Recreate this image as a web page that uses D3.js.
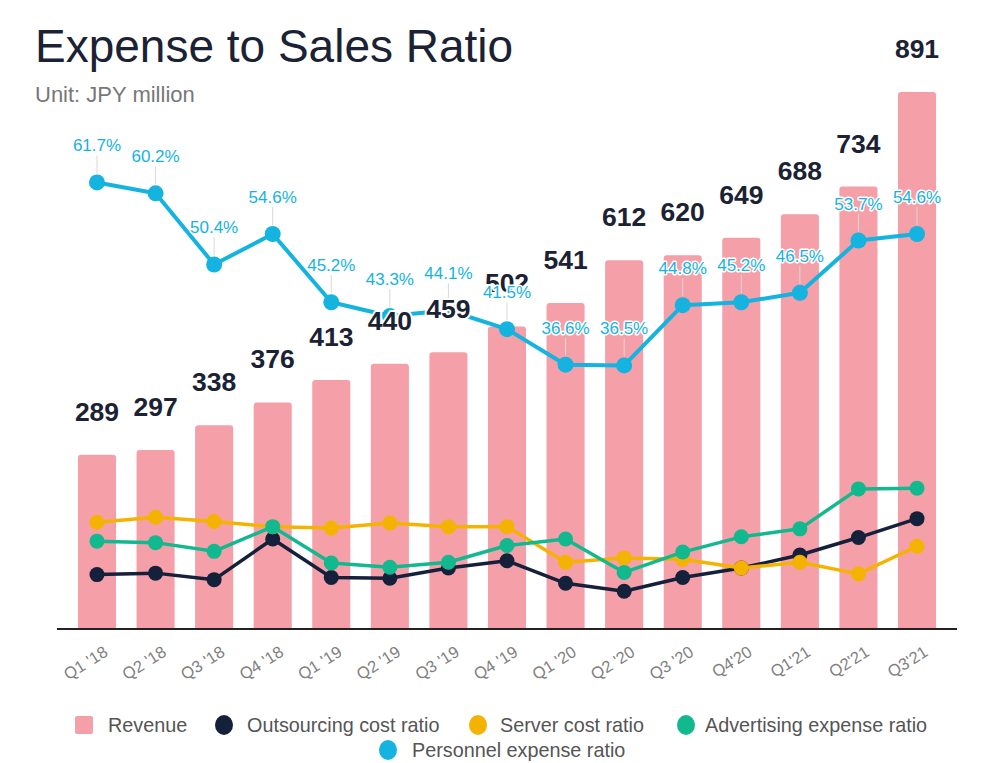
<!DOCTYPE html>
<html>
<head>
<meta charset="utf-8">
<script src="https://cdn.jsdelivr.net/npm/d3@7"></script>
<style>
  html, body { margin: 0; padding: 0; background: #fff; }
  svg { display: block; font-family: "Liberation Sans", Arial, Helvetica, sans-serif; }
</style>
</head>
<body>
<svg id="chart" width="983" height="763"></svg>
<script>
const quarters = ["Q1 '18","Q2 '18","Q3 '18","Q4 '18","Q1 '19","Q2 '19","Q3 '19","Q4 '19","Q1 '20","Q2 '20","Q3 '20","Q4'20","Q1'21","Q2'21","Q3'21"];
const revenue = [289, 297, 338, 376, 413, 440, 459, 502, 541, 612, 620, 649, 688, 734, 891];
const outsourcingRatio = [7.7, 7.9, 7.0, 12.6, 7.3, 7.2, 8.6, 9.6, 6.5, 5.4, 7.3, 8.6, 10.4, 12.8, 15.4];
const serverRatio = [14.9, 15.6, 15.0, 14.3, 14.1, 14.8, 14.3, 14.3, 9.4, 10.0, 9.8, 8.6, 9.4, 7.8, 11.6];
const advertisingRatio = [12.3, 12.1, 10.9, 14.3, 9.3, 8.7, 9.4, 11.7, 12.6, 8.0, 10.8, 12.9, 14.0, 19.5, 19.6];
const personnelRatio = [61.7, 60.2, 50.4, 54.6, 45.2, 43.3, 44.1, 41.5, 36.6, 36.5, 44.8, 45.2, 46.5, 53.7, 54.6];

const colors = {
  revenue: "#f59fa8",
  outsourcing: "#15203a",
  server: "#f5b301",
  advertising: "#12b98f",
  personnel: "#14b3e0",
  dark: "#1a2233"
};

const svg = d3.select("#chart");
const baseY = 629;

const x = d3.scaleBand().domain(quarters).range([67.7, 946.3]).paddingInner(0.35).paddingOuter(0.175);
const yRev = d3.scaleLinear().domain([0, 1000]).range([baseY, baseY - 602.7]);
const yPct = d3.scaleLinear().domain([0, 80]).range([630.5, 630.5 - 80 * 7.262]);

// Title
svg.append("text").attr("x", 35).attr("y", 62)
  .attr("font-size", 46).attr("fill", colors.dark).text("Expense to Sales Ratio");
svg.append("text").attr("x", 35).attr("y", 102)
  .attr("font-size", 22).attr("fill", "#777").text("Unit: JPY million");

// Bars
const barG = svg.append("g");
barG.selectAll("path").data(revenue).enter().append("path")
  .attr("fill", colors.revenue)
  .attr("d", (d, i) => {
    const x0 = x(quarters[i]), w = x.bandwidth(), y0 = yRev(d), r = 3;
    return `M${x0},${baseY} L${x0},${y0 + r} Q${x0},${y0} ${x0 + r},${y0} L${x0 + w - r},${y0} Q${x0 + w},${y0} ${x0 + w},${y0 + r} L${x0 + w},${baseY} Z`;
  });

// Axis
const axisG = svg.append("g").attr("transform", `translate(0,${baseY})`);
axisG.append("line").attr("x1", 57).attr("x2", 957).attr("y1", 0).attr("y2", 0)
  .attr("stroke", "#222").attr("stroke-width", 2);
axisG.selectAll("text.tick").data(quarters).enter().append("text")
  .attr("class", "tick")
  .attr("transform", d => `translate(${x(d) + x.bandwidth() / 2 + 12},${26}) rotate(-32)`)
  .attr("text-anchor", "end")
  .attr("font-size", 16.5).attr("fill", "#7f7f7f")
  .text(d => d);

// Lines
const series = [
  { key: "outsourcing", values: outsourcingRatio, width: 3.5, r: 7.5 },
  { key: "server", values: serverRatio, width: 3.5, r: 7.5 },
  { key: "advertising", values: advertisingRatio, width: 3.5, r: 7.5 },
  { key: "personnel", values: personnelRatio, width: 4, r: 8 }
];
const cx = i => x(quarters[i]) + x.bandwidth() / 2;
const line = d3.line().x((d, i) => cx(i)).y(d => yPct(d));

series.forEach(s => {
  const g = svg.append("g");
  g.append("path").datum(s.values).attr("d", line)
    .attr("fill", "none").attr("stroke", colors[s.key]).attr("stroke-width", s.width)
    .attr("stroke-linejoin", "round");
  g.selectAll("circle").data(s.values).enter().append("circle")
    .attr("cx", (d, i) => cx(i)).attr("cy", d => yPct(d)).attr("r", s.r)
    .attr("fill", colors[s.key]);
});

// Leader lines for personnel labels
svg.append("g").selectAll("line").data(personnelRatio).enter().append("line")
  .attr("x1", (d, i) => cx(i)).attr("x2", (d, i) => cx(i))
  .attr("y1", d => yPct(d) - 9).attr("y2", d => yPct(d) - 27)
  .attr("stroke", "#d8d8d8").attr("stroke-width", 1);

// Revenue labels
svg.append("g").selectAll("text").data(revenue).enter().append("text")
  .attr("x", (d, i) => cx(i)).attr("y", d => yRev(d) - 34)
  .attr("text-anchor", "middle").attr("font-size", 26.5).attr("font-weight", "bold")
  .attr("fill", colors.dark)
  .attr("stroke", "#fff").attr("stroke-width", 4).attr("paint-order", "stroke")
  .attr("stroke-linejoin", "round")
  .text(d => d);

// Personnel % labels
svg.append("g").selectAll("text").data(personnelRatio).enter().append("text")
  .attr("x", (d, i) => cx(i)).attr("y", d => yPct(d) - 31)
  .attr("text-anchor", "middle").attr("font-size", 17)
  .attr("fill", colors.personnel)
  .attr("stroke", "#fff").attr("stroke-width", 3).attr("paint-order", "stroke")
  .attr("stroke-linejoin", "round")
  .text(d => d.toFixed(1) + "%");

// Legend
const legend = svg.append("g").attr("font-size", 19.8).attr("fill", "#555");
const legendItems = [
  { label: "Revenue", color: colors.revenue, shape: "rect", sx: 84, tx: 108, y: 725 },
  { label: "Outsourcing cost ratio", color: colors.outsourcing, shape: "circle", sx: 224, tx: 247, y: 725 },
  { label: "Server cost ratio", color: colors.server, shape: "circle", sx: 478, tx: 500, y: 725 },
  { label: "Advertising expense ratio", color: colors.advertising, shape: "circle", sx: 686, tx: 705, y: 725 },
  { label: "Personnel expense ratio", color: colors.personnel, shape: "circle", sx: 388, tx: 412, y: 750 }
];
legendItems.forEach(it => {
  if (it.shape === "rect") {
    legend.append("rect").attr("x", it.sx - 9).attr("y", it.y - 9).attr("width", 18).attr("height", 18)
      .attr("rx", 2).attr("fill", it.color);
  } else {
    legend.append("ellipse").attr("cx", it.sx).attr("cy", it.y).attr("rx", 9).attr("ry", 10).attr("fill", it.color);
  }
  legend.append("text").attr("x", it.tx).attr("y", it.y + 7).text(it.label);
});
</script>
</body>
</html>
